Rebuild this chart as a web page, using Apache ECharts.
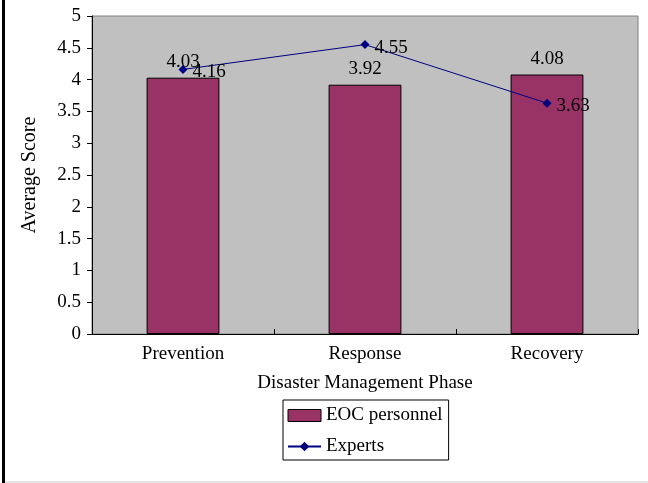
<!DOCTYPE html>
<html><head><meta charset="utf-8">
<script src="https://cdn.jsdelivr.net/npm/echarts@6/dist/echarts.min.js"></script>
<style>html,body{margin:0;padding:0;background:#fff}#c{width:648px;height:483px}</style>
</head><body><div id="c"></div>
<script>
const categories = ['Prevention', 'Response', 'Recovery'];
const eocPersonnel = [4.03, 3.92, 4.08];
const experts = [4.16, 4.55, 3.63];
const yTicks = [0, 0.5, 1, 1.5, 2, 2.5, 3, 3.5, 4, 4.5, 5];

const FONT = 'Liberation Serif';
const FS = 19;
const chart = echarts.init(document.getElementById('c'), null, {renderer: 'canvas'});
chart.setOption({
  animation: false,
  textStyle: {fontFamily: FONT},
  grid: {left: 92, right: 10, top: 16, bottom: 149, show: true, backgroundColor: '#C0C0C0', borderColor: '#808080', borderWidth: 1},
  xAxis: {
    type: 'category', data: categories,
    name: 'Disaster Management Phase', nameLocation: 'middle', nameGap: 40,
    nameTextStyle: {fontFamily: FONT, fontSize: FS, color: '#000'},
    axisLine: {lineStyle: {color: '#000', width: 1}},
    axisTick: {show: true, inside: true, length: 5, lineStyle: {color: '#000'}},
    axisLabel: {fontFamily: FONT, fontSize: FS, color: '#000', margin: 11},
    splitLine: {show: false}
  },
  yAxis: {
    type: 'value', min: yTicks[0], max: yTicks[yTicks.length - 1], interval: yTicks[1] - yTicks[0],
    name: 'Average Score', nameLocation: 'middle', nameGap: 52,
    nameTextStyle: {fontFamily: FONT, fontSize: 20, color: '#000'},
    axisLine: {show: true, lineStyle: {color: '#000', width: 1}},
    axisTick: {show: true, inside: false, length: 5, lineStyle: {color: '#000'}},
    axisLabel: {fontFamily: FONT, fontSize: FS, color: '#000', margin: 11},
    splitLine: {show: false}
  },
  legend: {
    orient: 'vertical', left: 283, top: 400,
    itemWidth: 33, itemHeight: 12, itemGap: 12,
    padding: [6, 6, 4, 4],
    borderColor: '#000', borderWidth: 1, backgroundColor: '#fff',
    textStyle: {fontFamily: FONT, fontSize: FS, color: '#000'},
    data: [
      {name: 'EOC personnel', icon: 'rect', itemStyle: {borderColor: '#000', borderWidth: 1}},
      {name: 'Experts'}
    ]
  },
  series: [
    {
      name: 'EOC personnel', type: 'bar', data: eocPersonnel, barWidth: '40%',
      itemStyle: {color: '#993366', borderColor: '#000', borderWidth: 1},
      label: {show: true, position: 'top', distance: 6, fontFamily: FONT, fontSize: FS, color: '#000', formatter: p => p.value.toFixed(2)}
    },
    {
      name: 'Experts', type: 'line', data: experts,
      symbol: 'diamond', symbolSize: 9,
      lineStyle: {color: '#000080', width: 1},
      itemStyle: {color: '#000080'},
      label: {show: true, position: 'right', distance: 5, offset: [0, 3], fontFamily: FONT, fontSize: FS, color: '#000', formatter: p => p.value.toFixed(2)}
    }
  ],
  graphic: [
    {type: 'rect', left: 2, top: 0, shape: {width: 3, height: 483}, style: {fill: '#000'}},
    {type: 'rect', left: 5, top: 481, shape: {width: 643, height: 2}, style: {fill: '#e6e6e6'}}
  ]
});
</script></body></html>
